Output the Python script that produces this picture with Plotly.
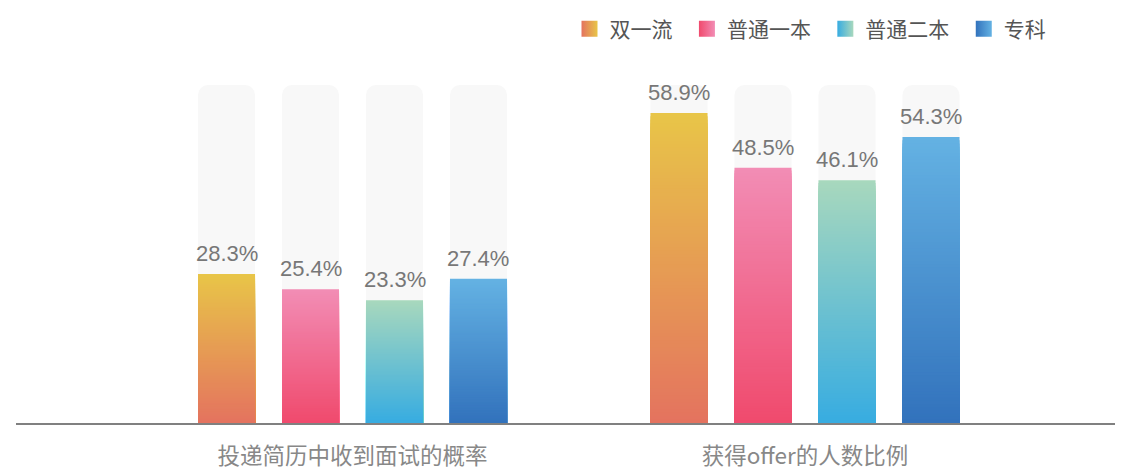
import plotly.graph_objects as go

# ---------------- data ----------------
categories = ["投递简历中收到面试的概率", "获得offer的人数比例"]
series_names = ["双一流", "普通一本", "普通二本", "专科"]
values_shuangyiliu = [28.3, 58.9]
values_putong_yiben = [25.4, 48.5]
values_putong_erben = [23.3, 46.1]
values_zhuanke = [27.4, 54.3]
series_values = [values_shuangyiliu, values_putong_yiben, values_putong_erben, values_zhuanke]

# gradient colours (top, bottom)
top_colors = ["#E8C548", "#F28DB5", "#A8D8BD", "#64B2E3"]
bottom_colors = ["#E4735F", "#F04A6D", "#37ACE1", "#3272BC"]

Y_MAX = 64.2          # axis maximum (background bars fill the whole height)
N_STEPS = 90          # gradient resolution

# ---------------- layout constants ----------------
# the page adds an 8px body margin, so the figure is 8px smaller than the window
PAGE_OFF = 8
W, H = 1123 - PAGE_OFF, 473 - PAGE_OFF
M_L, M_R, M_T, M_B = 16 - PAGE_OFF, 0, 85 - PAGE_OFF, 50
X_RANGE = [-0.7437, 1.7028]
BARGAP = 0.2575
BARGROUPGAP = 0.321

GROUP_W = 1 - BARGAP
SLOT_W = GROUP_W / len(series_names)
BAR_W = SLOT_W * (1 - BARGROUPGAP)


def hex2rgb(h):
    h = h.lstrip("#")
    return tuple(int(h[i:i + 2], 16) for i in (0, 2, 4))


def mix(c1, c2, t):
    a, b = hex2rgb(c1), hex2rgb(c2)
    return "rgb(%d,%d,%d)" % tuple(round(a[i] + (b[i] - a[i]) * t) for i in range(3))


fig = go.Figure()

for i, (name, vals) in enumerate(zip(series_names, series_values)):
    offset = -GROUP_W / 2 + i * SLOT_W + (SLOT_W - BAR_W) / 2
    # light background bar
    fig.add_trace(go.Bar(
        x=categories, y=[Y_MAX] * len(categories), offset=offset, width=BAR_W,
        marker=dict(color="#F8F8F8", line=dict(width=0)),
        showlegend=False, hoverinfo="skip",
    ))
    # gradient bar built from nested bars (tallest first)
    xs, ys, cs = [], [], []
    for k in range(N_STEPS, 0, -1):
        frac = k / N_STEPS
        t = (k - 0.5) / N_STEPS          # 0 = bottom, 1 = top
        for c, v in zip(categories, vals):
            xs.append(c)
            ys.append(v * frac)
            cs.append(mix(bottom_colors[i], top_colors[i], t))
    fig.add_trace(go.Bar(
        x=xs, y=ys, offset=offset, width=BAR_W,
        marker=dict(color=cs, line=dict(width=0)),
        showlegend=False, hoverinfo="skip",
    ))
    # legend entry with horizontal gradient swatch
    fig.add_trace(go.Scatter(
        x=[None], y=[None], mode="markers", name=name + "\u00a0\u00a0",
        marker=dict(symbol="square", size=16, color=bottom_colors[i],
                    gradient=dict(type="horizontal", color=top_colors[i])),
    ))

# value labels
plot_w = W - M_L - M_R
px_per_unit = plot_w / (X_RANGE[1] - X_RANGE[0])
slot_px = SLOT_W * px_per_unit
annotations = []
for i, vals in enumerate(series_values):
    for c, v in zip(categories, vals):
        annotations.append(dict(
            x=c, y=v, xref="x", yref="y", text=f"{v}%", showarrow=False,
            xshift=(i - (len(series_names) - 1) / 2) * slot_px,
            yanchor="bottom", yshift=6,
            font=dict(family="Arial, 'Liberation Sans', sans-serif", size=22, color="#777777"),
        ))

fig.update_layout(
    width=W, height=H,
    margin=dict(l=M_L, r=M_R, t=M_T, b=M_B, autoexpand=False),
    paper_bgcolor="white", plot_bgcolor="white",
    barmode="overlay",
    barcornerradius=10,
    annotations=annotations,
    legend=dict(
        orientation="h", x=0.5, xanchor="left",
        yref="container", y=1 - (29 - PAGE_OFF) / H, yanchor="middle",
        font=dict(family="'Noto Sans CJK SC', sans-serif", size=21, color="#555555"),
        bgcolor="rgba(0,0,0,0)", itemclick=False, itemdoubleclick=False,
    ),
    xaxis=dict(
        type="category", categoryorder="array", categoryarray=categories,
        range=X_RANGE, showline=True, linecolor="#808080", linewidth=2,
        showgrid=False, zeroline=False, ticks="", ticklabelstandoff=12,
        tickfont=dict(family="'Noto Sans CJK SC', sans-serif", size=22.5, color="#888888"),
    ),
    yaxis=dict(range=[0, Y_MAX], visible=False, showgrid=False, zeroline=False),
    showlegend=True,
)

fig.write_html("out.html")
